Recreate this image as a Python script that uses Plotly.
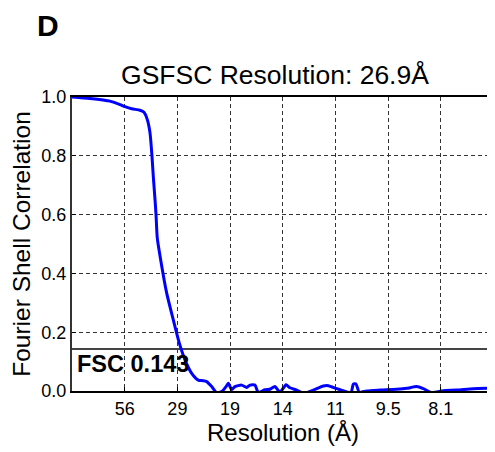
import plotly.graph_objects as go

# Spatial frequency (1/Å) and FSC values
freq = [0.0, 0.00608, 0.01284, 0.01621, 0.0179, 0.02017, 0.02297, 0.02432, 0.02544,
        0.02635, 0.02702, 0.02746, 0.02804, 0.02838, 0.02881, 0.02996, 0.03199, 0.03422,
        0.03625, 0.03817, 0.04043, 0.04266, 0.04425, 0.0455, 0.04719, 0.04888, 0.05057,
        0.05202, 0.0528, 0.05395, 0.05506, 0.05732, 0.05901, 0.06013, 0.06182, 0.06293,
        0.0652, 0.06688, 0.06857, 0.07026, 0.07229, 0.07364, 0.0759, 0.07837, 0.08151,
        0.08489, 0.08658, 0.08942, 0.09188, 0.09425, 0.09502, 0.09594, 0.09705, 0.09955,
        0.10404, 0.10968, 0.11306, 0.11644, 0.11867, 0.12151, 0.12543, 0.12995, 0.13556,
        0.14255]
fsc = [1.0, 0.995, 0.986, 0.974, 0.967, 0.960, 0.955, 0.948, 0.923,
       0.878, 0.798, 0.73, 0.651, 0.60, 0.52, 0.446, 0.333, 0.242,
       0.163, 0.106, 0.060, 0.037, 0.035, 0.032, 0.015, -0.006, -0.002,
       0.015, 0.026, 0.005, 0.015, 0.02, 0.012, 0.02, 0.02, -0.005,
       0.004, 0.006, 0.015, -0.004, 0.021, 0.011, 0.003, -0.008, 0.003,
       0.017, 0.018, 0.008, 0.0, -0.005, 0.023, 0.024, -0.004, 0.0,
       0.003, 0.006, 0.009, 0.015, 0.008, -0.005, 0.001, 0.003, 0.008,
       0.01]

tick_freqs = [0.0178, 0.0356, 0.0534, 0.0712, 0.089, 0.1068, 0.1246]
tick_labels = ["56", "29", "19", "14", "11", "9.5", "8.1"]
y_ticks = [0.0, 0.2, 0.4, 0.6, 0.8, 1.0]
threshold = 0.143
x_range = [0.0, 0.14255]

fig = go.Figure()
fig.add_trace(go.Scatter(
    x=x_range, y=[threshold, threshold], mode="lines",
    line=dict(color="#444444", width=2), hoverinfo="skip", showlegend=False))
fig.add_trace(go.Scatter(
    x=freq, y=fsc, mode="lines",
    line=dict(color="#0000ff", width=3, shape="spline", smoothing=0.6),
    showlegend=False))

font_family = "Liberation Sans, Arial, sans-serif"

fig.update_layout(
    width=487, height=444,
    margin=dict(l=64, r=1, t=89, b=61, autoexpand=False),
    paper_bgcolor="white", plot_bgcolor="white",
    font=dict(family=font_family, color="black"),
    title=dict(text="GSFSC Resolution: 26.9Å", xref="paper", x=0.481, xanchor="center",
               yref="container", y=1 - 66.5 / 444, yanchor="middle", font=dict(size=26.5)),
    xaxis=dict(range=x_range, tickvals=tick_freqs, ticktext=tick_labels,
               showgrid=True, gridcolor="#333333", griddash="4px,3px", gridwidth=1,
               showline=True, linecolor="black", linewidth=2, mirror=True,
               ticks="inside", ticklen=4, tickcolor="black",
               tickfont=dict(size=18), automargin=False,
               title=dict(text="Resolution (Å)", font=dict(size=24), standoff=3),
               zeroline=False),
    yaxis=dict(range=[0, 1.0], tickvals=y_ticks, tickformat=".1f",
               showgrid=True, gridcolor="#333333", griddash="4px,3px", gridwidth=1,
               showline=True, linecolor="#333333", linewidth=2, mirror=True,
               ticks="inside", ticklen=4, tickcolor="black",
               tickfont=dict(size=18), automargin=False,
               title=dict(text="Fourier Shell Correlation", font=dict(size=24.5), standoff=7),
               zeroline=False),
    annotations=[
        dict(text="<b>D</b>", xref="paper", yref="paper", x=-0.0557,
             y=1.243, xanchor="center", yanchor="middle",
             showarrow=False, font=dict(size=30)),
        dict(text="<b>FSC 0.143</b>", xref="x", yref="y", x=0.001, y=threshold,
             xanchor="left", yanchor="top", showarrow=False, font=dict(size=23.5)),
    ],
)

fig.write_html("out.html")
